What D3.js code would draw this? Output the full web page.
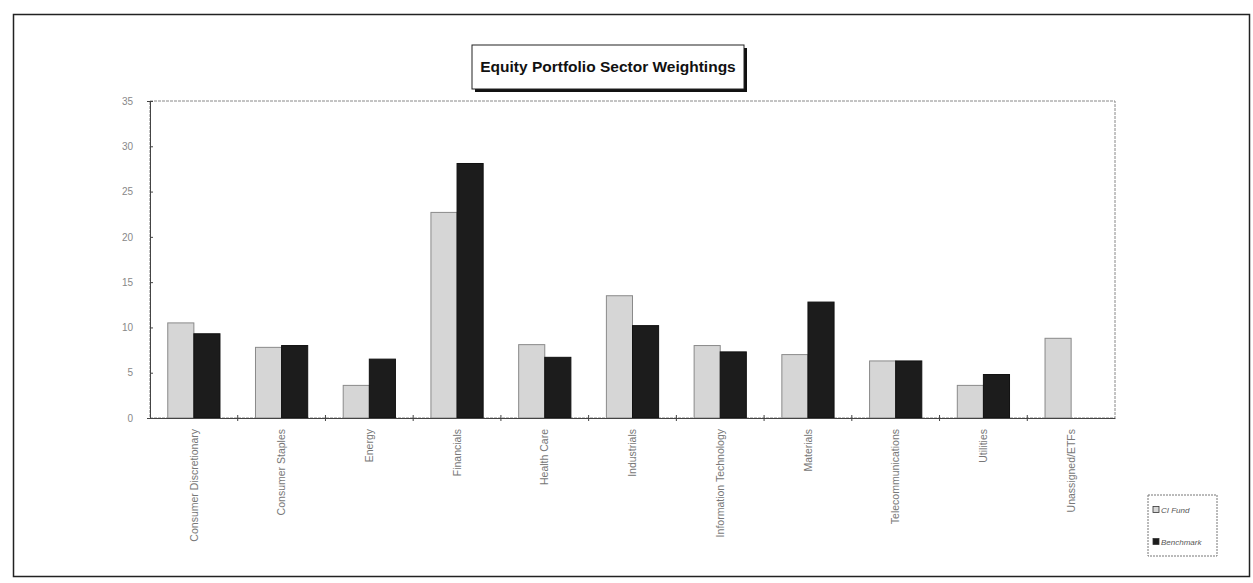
<!DOCTYPE html>
<html>
<head>
<meta charset="utf-8">
<script src="https://cdn.jsdelivr.net/npm/d3@7"></script>
<style>
  body { margin: 0; background: #fff; }
  svg { display: block; font-family: "Liberation Sans", Arial, sans-serif; }
</style>
</head>
<body>
<svg id="chart" width="1253" height="583"></svg>
<script>
const sectors = [
  "Consumer Discretionary", "Consumer Staples", "Energy", "Financials",
  "Health Care", "Industrials", "Information Technology", "Materials",
  "Telecommunications", "Utilities", "Unassigned/ETFs"
];
const fundValues = [10.5, 7.8, 3.6, 22.7, 8.1, 13.5, 8.0, 7.0, 6.3, 3.6, 8.8];
const benchValues = [9.3, 8.0, 6.5, 28.1, 6.7, 10.2, 7.3, 12.8, 6.3, 4.8, 0];
const seriesNames = ["CI Fund", "Benchmark"];
const yTicks = [0, 5, 10, 15, 20, 25, 30, 35];

const svg = d3.select("#chart");
const plot = { left: 150, right: 1115, top: 101, bottom: 418 };

// outer frame
svg.append("rect")
  .attr("x", 13.5).attr("y", 14.5).attr("width", 1236).attr("height", 562)
  .attr("fill", "none").attr("stroke", "#222").attr("stroke-width", 1.5);

// plot frame
svg.append("rect")
  .attr("x", plot.left).attr("y", plot.top)
  .attr("width", plot.right - plot.left).attr("height", plot.bottom - plot.top)
  .attr("fill", "none").attr("stroke", "#888").attr("stroke-width", 1)
  .attr("stroke-dasharray", "3,1");

const x = d3.scaleBand().domain(sectors).range([plot.left, plot.right]).padding(0);
const y = d3.scaleLinear().domain([0, 35]).range([plot.bottom, plot.top]);
const sub = d3.scaleBand().domain(seriesNames).range([0, x.bandwidth()]).paddingInner(0).paddingOuter(0.68);

const rows = sectors.map((s, i) => ({ sector: s, vals: [fundValues[i], benchValues[i]] }));
const fills = ["#d6d6d6", "#1c1c1c"];
const strokes = ["#8a8a8a", "#111"];

const groups = svg.append("g").selectAll("g")
  .data(rows).join("g")
  .attr("transform", d => `translate(${x(d.sector)},0)`);

groups.selectAll("rect")
  .data(d => d.vals.map((v, k) => ({ v, k })).filter(e => e.v > 0))
  .join("rect")
  .attr("x", e => sub(seriesNames[e.k]))
  .attr("y", e => y(e.v))
  .attr("width", sub.bandwidth())
  .attr("height", e => y(0) - y(e.v))
  .attr("fill", e => fills[e.k])
  .attr("stroke", e => strokes[e.k])
  .attr("stroke-width", 1);

// y axis
const yAxis = svg.append("g")
  .attr("transform", `translate(${plot.left},0)`)
  .call(d3.axisLeft(y).tickValues(yTicks).tickSize(3).tickPadding(14));
yAxis.select(".domain").attr("stroke", "#444");
yAxis.selectAll(".tick line").attr("stroke", "#444").attr("x2", 3);
yAxis.selectAll("text").attr("fill", "#888").attr("font-size", 10)
  .attr("font-family", "'Liberation Sans', Arial, sans-serif");

// x axis
const xAxis = svg.append("g")
  .attr("transform", `translate(0,${plot.bottom})`)
  .call(d3.axisBottom(x).tickSize(0).tickPadding(0));
xAxis.select(".domain").attr("stroke", "#444");
xAxis.selectAll(".tick text")
  .attr("transform", "rotate(-90)")
  .attr("x", -11).attr("y", 0).attr("dy", "0.35em")
  .attr("text-anchor", "end")
  .attr("fill", "#777").attr("font-size", 10.5)
  .attr("font-family", "'Liberation Sans', Arial, sans-serif");
// category separator ticks
xAxis.selectAll(".sep")
  .data(sectors.slice(1)).join("line")
  .attr("x1", d => x(d)).attr("x2", d => x(d))
  .attr("y1", -3).attr("y2", 3)
  .attr("stroke", "#444");

// title box
const tb = { x: 472, y: 45, w: 272, h: 44 };
svg.append("rect")
  .attr("x", tb.x + 3).attr("y", tb.y + 3).attr("width", tb.w).attr("height", tb.h)
  .attr("fill", "#111");
svg.append("rect")
  .attr("x", tb.x).attr("y", tb.y).attr("width", tb.w).attr("height", tb.h)
  .attr("fill", "#fff").attr("stroke", "#222").attr("stroke-width", 1);
svg.append("text")
  .attr("x", tb.x + tb.w / 2).attr("y", tb.y + tb.h / 2 + 1)
  .attr("text-anchor", "middle").attr("dominant-baseline", "middle")
  .attr("font-size", 15.5).attr("font-weight", "bold").attr("fill", "#111")
  .text("Equity Portfolio Sector Weightings");

// legend
const lg = svg.append("g").attr("transform", "translate(1148,495)");
lg.append("rect")
  .attr("width", 69).attr("height", 61)
  .attr("fill", "#fff").attr("stroke", "#777").attr("stroke-dasharray", "2,1");
seriesNames.forEach((name, k) => {
  const yy = 15 + k * 32;
  lg.append("rect")
    .attr("x", 5).attr("y", yy - 3.5).attr("width", 6).attr("height", 6)
    .attr("fill", fills[k]).attr("stroke", "#333").attr("stroke-width", 0.8);
  lg.append("text")
    .attr("x", 13).attr("y", yy).attr("dy", "0.35em")
    .attr("font-size", 8).attr("font-style", "italic").attr("fill", "#555")
    .text(name);
});
</script>
</body>
</html>
